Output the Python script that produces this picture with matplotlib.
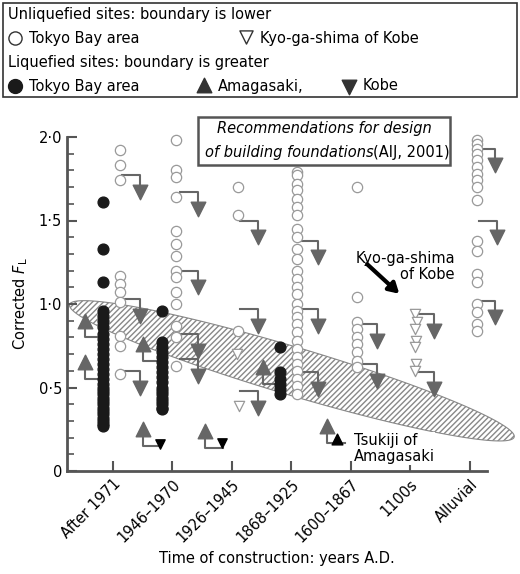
import numpy as np
import matplotlib.pyplot as plt
from matplotlib.patches import Polygon, FancyBboxPatch

categories = ['After 1971', '1946–1970', '1926–1945', '1868–1925', '1600–1867', '1100s', 'Alluvial']

# liquefied, Tokyo Bay (black)
black_x = [0.83] * 31 + [1.82] * 18 + [3.81] * 6
black_y = [1.61, 1.33, 1.13, 0.96, 0.93, 0.90, 0.86, 0.82, 0.79, 0.76, 0.73, 0.70, 0.67, 0.64,
           0.61, 0.58, 0.55, 0.52, 0.50, 0.48, 0.46, 0.44, 0.42, 0.40, 0.38, 0.36, 0.34, 0.32,
           0.30, 0.28, 0.27,
           0.96, 0.77, 0.74, 0.71, 0.68, 0.65, 0.62, 0.59, 0.56, 0.53, 0.50, 0.48, 0.46, 0.44,
           0.42, 0.40, 0.38, 0.37,
           0.74, 0.59, 0.55, 0.52, 0.49, 0.46]

# unliquefied, Tokyo Bay (open circles)
open_x = ([1.12] * 10 + [2.07] * 14 + [3.1] * 3 + [4.09] * 28 + [5.1] * 9 + [7.12] * 18)
open_y = [1.92, 1.83, 1.74, 1.17, 1.12, 1.07, 1.01, 0.81, 0.75, 0.58,
          1.98, 1.80, 1.76, 1.64, 1.44, 1.36, 1.29, 1.20, 1.16, 1.07, 1.00, 0.87, 0.80, 0.63,
          1.70, 1.53, 0.84,
          1.79, 1.77, 1.72, 1.68, 1.63, 1.58, 1.53, 1.45, 1.40, 1.33, 1.27, 1.20, 1.15, 1.10,
          1.06, 1.00, 0.96, 0.92, 0.88, 0.83, 0.78, 0.73, 0.68, 0.64, 0.60, 0.55, 0.51, 0.46,
          1.70, 1.04, 0.89, 0.85, 0.80, 0.76, 0.71, 0.66, 0.62,
          1.98, 1.96, 1.93, 1.90, 1.86, 1.82, 1.78, 1.74, 1.70, 1.62, 1.38, 1.32, 1.18, 1.13,
          1.00, 0.95, 0.88, 0.84]

# unliquefied, Kyo-ga-shima of Kobe (open down triangles)
kyo_x = [3.08, 3.12, 6.08, 6.12, 6.08, 6.1, 6.08, 6.1, 6.08]
kyo_y = [0.70, 0.39, 0.94, 0.89, 0.85, 0.78, 0.74, 0.64, 0.60]

# liquefied, Kobe (grey down triangles)
kobe_x = [1.45, 1.45, 1.45, 2.43, 2.43, 2.43, 2.43, 3.44, 3.44, 3.44,
          4.45, 4.45, 4.45, 5.44, 5.44, 6.4, 6.4, 7.42, 7.45, 7.42]
kobe_y = [1.67, 0.93, 0.50, 1.57, 1.10, 0.72, 0.57, 1.40, 0.87, 0.38,
          1.28, 0.87, 0.49, 0.78, 0.54, 0.84, 0.49, 1.83, 1.40, 0.92]

# liquefied, Amagasaki (grey up triangles) and small black down triangles
amag_x = [0.53, 0.53, 1.5, 1.5, 2.55, 3.52, 4.6]
amag_y = [0.90, 0.65, 0.76, 0.25, 0.24, 0.62, 0.27]
small_x = [1.79, 2.83]
small_y = [0.16, 0.17]
tsukiji_x = [4.77]
tsukiji_y = [0.19]

GREY = '#666666'
LGREY = '#999999'

plt.rcParams['hatch.color'] = '#888888'
fig = plt.figure(figsize=(5.2, 5.74), dpi=100)
ax = fig.add_axes([67 / 520, 1 - 471 / 574, (487 - 67) / 520, (471 - 137) / 574])
ax.set_xlim(0.23, 7.29)
ax.set_ylim(0, 2.0)

# hatched band (built in pixel-like space so the shape matches)
sx, sy = 59.5, 167.0
t = np.linspace(0, 2 * np.pi, 200)
a, b, ang = 232, 24, np.deg2rad(-16.6)
ex = a * np.cos(t) * np.cos(ang) - b * np.sin(t) * np.sin(ang)
ey = a * np.cos(t) * np.sin(ang) + b * np.sin(t) * np.cos(ang)
band = Polygon(np.column_stack([4.01 + ex / sx, 0.60 + ey / sy]), closed=True,
               facecolor='white', edgecolor='#888888', hatch='//////', lw=0.8,
               clip_on=False, zorder=1)
ax.add_patch(band)

# L-shaped connectors
for x, y in zip(kobe_x, kobe_y):
    ax.plot([x - 0.3, x, x], [y + 0.1, y + 0.1, y + 0.03], color=GREY, lw=1.5, zorder=2,
            clip_on=False)
for x, y in zip(amag_x, amag_y):
    ax.plot([x, x, x + 0.3], [y - 0.03, y - 0.1, y - 0.1], color=GREY, lw=1.5, zorder=2)

kw = dict(clip_on=False)
ax.scatter(open_x, open_y, s=55, facecolors='white', edgecolors=LGREY, lw=0.9, zorder=3, **kw)
ax.scatter(kyo_x, kyo_y, s=55, marker='v', facecolors='white', edgecolors=LGREY, lw=0.9,
           zorder=3, **kw)
ax.scatter(black_x, black_y, s=60, color='#1a1a1a', zorder=4, **kw)
ax.scatter(kobe_x, kobe_y, s=110, marker='v', color=GREY, zorder=4, **kw)
ax.scatter(amag_x, amag_y, s=110, marker='^', color=GREY, zorder=4, **kw)
ax.scatter(small_x, small_y, s=45, marker='v', color='black', zorder=4, **kw)
ax.scatter(tsukiji_x, tsukiji_y, s=60, marker='^', color='black', zorder=4, **kw)

for s in ['top', 'right']:
    ax.spines[s].set_visible(False)
for s in ['left', 'bottom']:
    ax.spines[s].set_color('#555555')
    ax.spines[s].set_linewidth(2)

ax.set_yticks([0, 0.5, 1.0, 1.5, 2.0])
ax.set_yticklabels(['0', '0·5', '1·0', '1·5', '2·0'], fontsize=10.5)
ax.set_yticks(np.arange(0, 2.01, 0.1), minor=True)
ax.set_xticks(range(1, 8))
ax.set_xticklabels(categories, rotation=45, ha='right', rotation_mode='anchor', fontsize=10.5)
ax.tick_params(direction='in', color='#555555', width=1.5, length=7)
ax.tick_params(axis='y', which='minor', direction='in', color='#555555', width=1.2, length=5)
ax.tick_params(axis='x', pad=4)
ax.set_ylabel(r'Corrected $F_\mathrm{L}$', fontsize=10.5, labelpad=6)
ax.set_xlabel('Time of construction: years A.D.', fontsize=10.5, labelpad=4)

# recommendation box
ax.add_patch(FancyBboxPatch((2.43, 1.83), 4.23, 0.29, boxstyle='square,pad=0',
                            facecolor='white', edgecolor='#555555', lw=1.8,
                            clip_on=False, zorder=5))
ax.text(4.55, 2.05, 'Recommendations for design', style='italic', fontsize=10.5,
        ha='center', va='center', zorder=6, clip_on=False)
ax.text(2.55, 1.91, 'of building foundations', style='italic', fontsize=10.5,
        ha='left', va='center', zorder=6)
ax.text(5.38, 1.91, '(AIJ, 2001)', fontsize=10.5, ha='left', va='center', zorder=6)

ax.text(6.75, 1.13, 'Kyo-ga-shima\nof Kobe', fontsize=10.5, ha='right', va='bottom',
        linespacing=1.1)
ax.annotate('', xy=(5.85, 1.05), xytext=(5.24, 1.25),
            arrowprops=dict(arrowstyle='-|>,head_width=0.35,head_length=0.6',
                            color='black', lw=3))
ax.text(5.05, 0.04, 'Tsukiji of\nAmagasaki', fontsize=10.5, ha='left', va='bottom',
        linespacing=1.1, zorder=6,
        bbox=dict(facecolor='white', edgecolor='none', pad=0.5))

# legend box at top
fig.patches.append(FancyBboxPatch((3 / 520, 1 - 97 / 574), 514 / 520, 94 / 574,
                                  boxstyle='square,pad=0', transform=fig.transFigure,
                                  facecolor='white', edgecolor='#333333', lw=1.2,
                                  zorder=-1))


def fy(py):
    return 1 - py / 574


def fx(px):
    return px / 520


fs = 10.5
fig.text(fx(8), fy(15), 'Unliquefied sites: boundary is lower', fontsize=fs, va='center')
fig.text(fx(8), fy(62), 'Liquefied sites: boundary is greater', fontsize=fs, va='center')
leg = fig.add_axes([0, 0, 1, 1], facecolor='none', zorder=10)
leg.set_xlim(0, 520)
leg.set_ylim(574, 0)
leg.axis('off')
leg.scatter([15], [38], s=90, facecolors='white', edgecolors='#333333', lw=1)
leg.scatter([246], [37], s=90, marker='v', facecolors='white', edgecolors='#333333', lw=1)
leg.scatter([15], [86], s=100, color='#1a1a1a')
leg.scatter([204], [85], s=110, marker='^', color='#333333')
leg.scatter([349], [87], s=110, marker='v', color='#333333')
fig.text(fx(29), fy(38), 'Tokyo Bay area', fontsize=fs, va='center')
fig.text(fx(260), fy(38), 'Kyo-ga-shima of Kobe', fontsize=fs, va='center')
fig.text(fx(29), fy(86), 'Tokyo Bay area', fontsize=fs, va='center')
fig.text(fx(218), fy(86), 'Amagasaki,', fontsize=fs, va='center')
fig.text(fx(363), fy(86), 'Kobe', fontsize=fs, va='center')

fig.savefig('out.png', dpi=100)
